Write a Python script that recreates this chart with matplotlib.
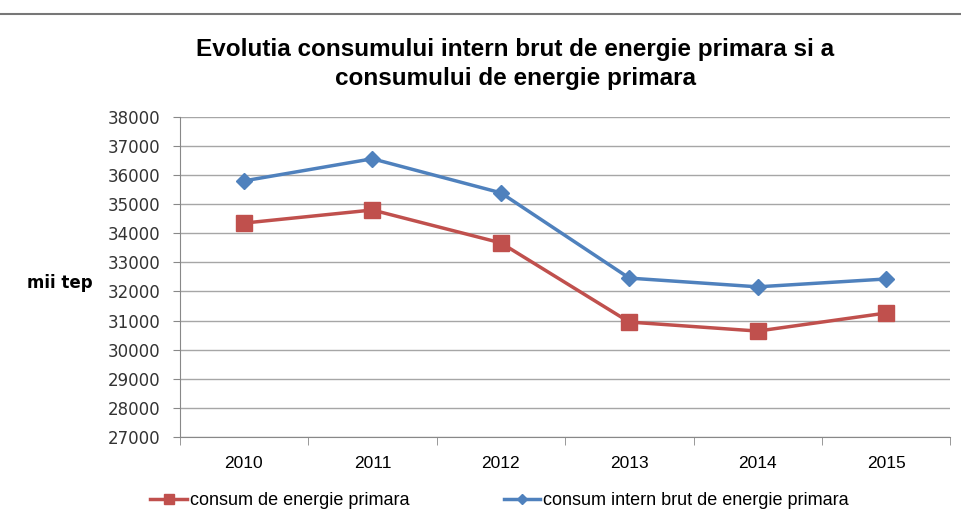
import matplotlib.pyplot as plt
from matplotlib.lines import Line2D

plt.rcParams['font.family'] = ['Liberation Sans', 'DejaVu Sans']

# Data
years = ["2010", "2011", "2012", "2013", "2014", "2015"]
consum_primar = [34350, 34800, 33670, 30950, 30640, 31260]
consum_intern_brut = [35800, 36560, 35390, 32460, 32160, 32430]

red = "#C0504D"
blue = "#4F81BD"

fig = plt.figure(figsize=(9.61, 5.24), dpi=100)
ax = fig.add_axes([0.187, 0.166, 0.802, 0.611])

x = range(len(years))
ax.plot(x, consum_primar, color=red, lw=2.5, marker="s", ms=11,
        label="consum de energie primara")
ax.plot(x, consum_intern_brut, color=blue, lw=2.5, marker="D", ms=8,
        label="consum intern brut de energie primara")

ax.set_xlim(-0.5, len(years) - 0.5)
ax.set_ylim(27000, 38000)
ax.set_yticks(range(27000, 38001, 1000))
ax.set_xticks(list(x))
ax.set_xticklabels(years)
ax.set_xticks([i + 0.5 for i in range(-1, len(years))], minor=True)
ax.tick_params(axis="x", which="major", length=0, pad=14, labelsize=12.5)
ax.tick_params(axis="x", which="minor", length=6, color="#888888")
ax.tick_params(axis="y", length=5, color="#888888", pad=9)
for lbl in ax.get_yticklabels():
    lbl.set_family(['DejaVu Sans'])
    lbl.set_fontsize(12)
    lbl.set_color("#333333")

ax.grid(axis="y", color="#A6A6A6", lw=1)
ax.set_axisbelow(True)
for s in ["top", "right"]:
    ax.spines[s].set_visible(False)
ax.spines["left"].set_color("#888888")
ax.spines["bottom"].set_color("#888888")

fig.text(0.028, 0.46, "mii tep", fontsize=12, fontweight="bold", ha="left", va="center",
         family=['DejaVu Sans'])

fig.text(0.536, 0.905, "Evolutia consumului intern brut de energie primara si a",
         fontsize=17.5, fontweight="bold", ha="center", va="center")
fig.text(0.536, 0.85, "consumului de energie primara",
         fontsize=17.5, fontweight="bold", ha="center", va="center")

# top rule
fig.add_artist(Line2D([0.0, 1.0], [0.973, 0.973], color="#777777", lw=1.5))

handles, labels = ax.get_legend_handles_labels()
fig.legend(handles, labels, loc="center", bbox_to_anchor=(0.52, 0.045), ncol=2,
           frameon=False, fontsize=13, handlelength=2.0, handletextpad=0.2,
           columnspacing=5.2, markerscale=0.7)

fig.savefig("out.png", dpi=100)
